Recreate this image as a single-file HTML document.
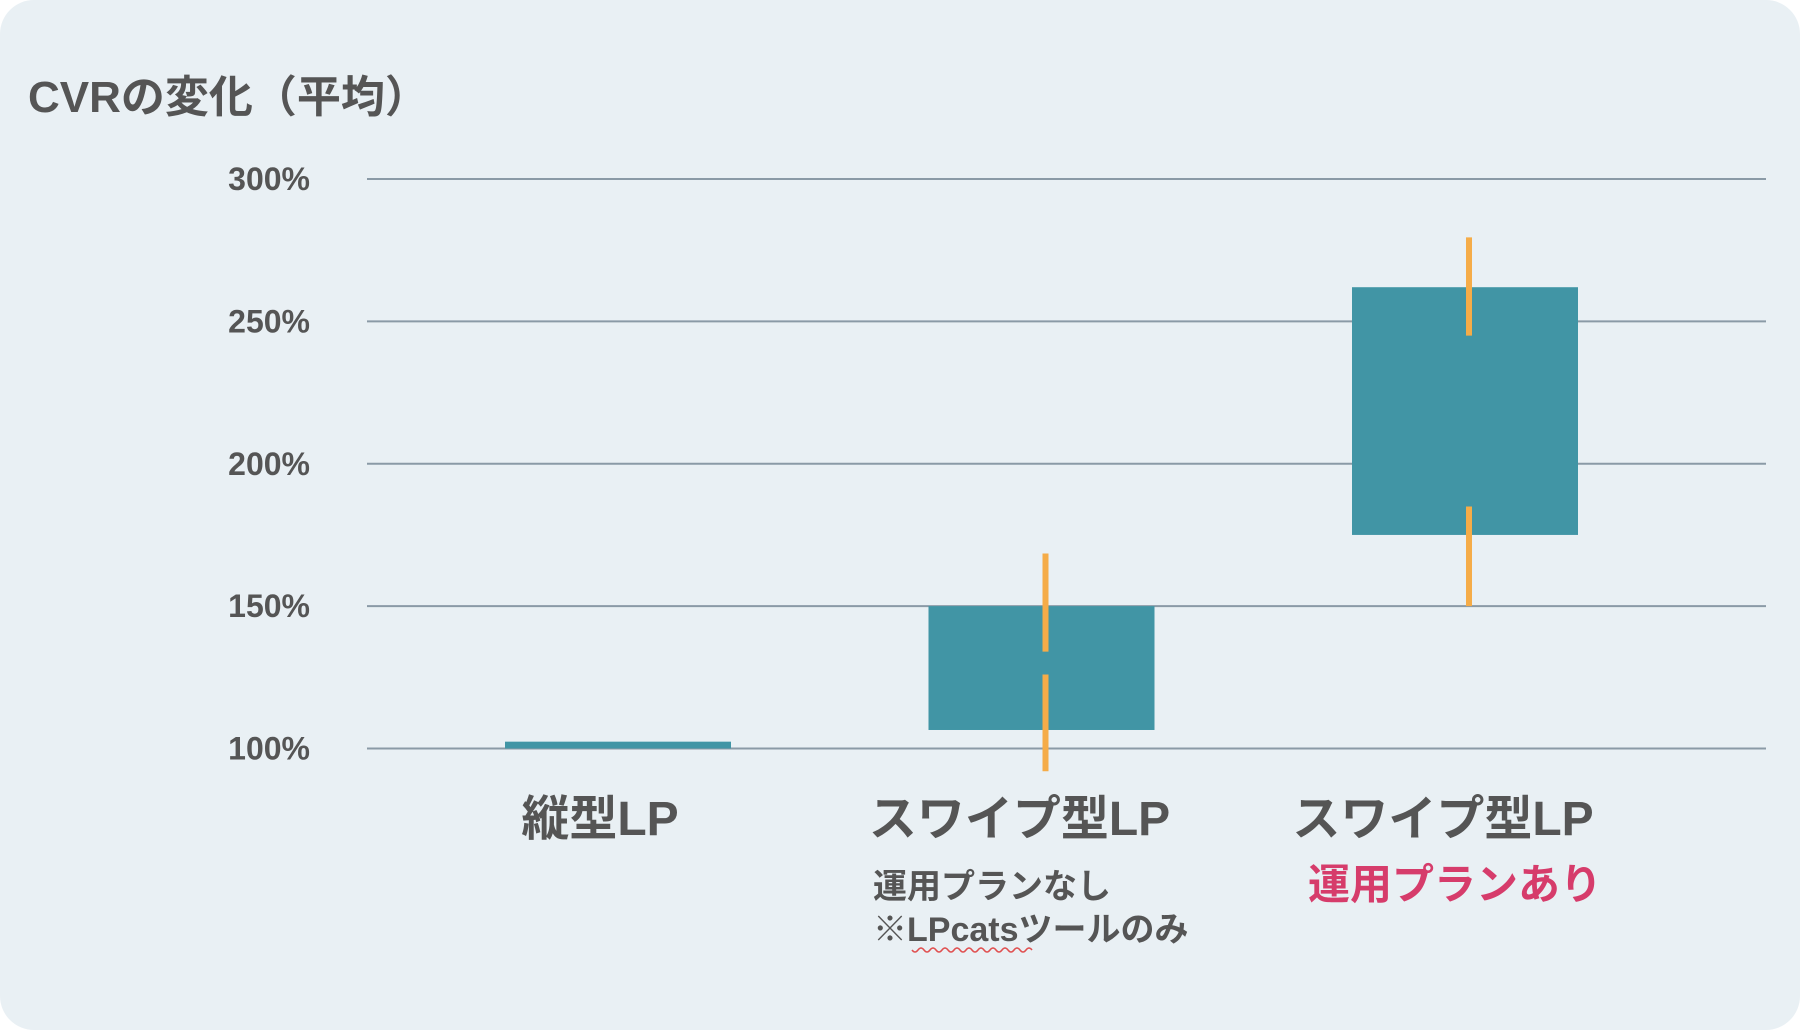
<!DOCTYPE html>
<html><head><meta charset="utf-8"><style>
html,body{margin:0;padding:0;background:#fff;}
#card{position:absolute;left:0;top:0;width:1800px;height:1030px;background:#e9f0f4;border-radius:34px;overflow:hidden;}
svg text{font-family:"Liberation Sans","Noto Sans CJK JP",sans-serif;font-weight:bold;}
</style></head><body>
<div id="card">
<svg id="chart" width="1800" height="1030">
<text x="28" y="112" font-size="44" fill="#555">CVRの変化（平均）</text>
<g id="grid"></g><g id="bars"></g><g id="labels"></g>
<path d="M912 950 q3 4 6 0 t6 0 t6 0 t6 0 t6 0 t6 0 t6 0 t6 0 t6 0 t6 0 t6 0 t6 0 t6 0 t6 0 t6 0 t6 0 t6 0 t6 0 t6 0 t6 0" fill="none" stroke="#e05050" stroke-width="1.5"/>
</svg>
</div>
<script>
const ticks=[100,150,200,250,300];
const tickLabels=["100%","150%","200%","250%","300%"];
const categories=["縦型LP","スワイプ型LP","スワイプ型LP"];
const boxLow=[100,106.5,175];
const boxHigh=[102.4,150,262];
const whiskerHigh=[null,168.5,279.5];
const whiskerHighInner=[null,134,245];
const whiskerLowInner=[null,126,185];
const whiskerLow=[null,92,150];
const ns="http://www.w3.org/2000/svg";
const y=v=>748.5-(v-100)*(569.5/200);
const x=i=>618+i*423.5;
function mk(t,a,p){const e=document.createElementNS(ns,t);for(const k in a)e.setAttribute(k,a[k]);p.appendChild(e);return e;}
const G=document.getElementById('grid'),B=document.getElementById('bars'),L=document.getElementById('labels');
ticks.forEach((t,i)=>{
 const l=mk('line',{x1:367,x2:1766,y1:y(t),y2:y(t),stroke:'#8a9aa6','stroke-width':2},G);
 
 
 const tx=mk('text',{x:310,y:y(t)+11,'text-anchor':'end','font-size':32,fill:'#555'},G);
 tx.textContent=tickLabels[i];
 
 
});
categories.forEach((c,i)=>{
 const r=mk('rect',{x:x(i)-113,width:226,y:y(boxHigh[i]),height:y(boxLow[i])-y(boxHigh[i]),fill:'#4195a5'},B);
 
 
 if(whiskerHigh[i]!==null){
  const w1=mk('line',{x1:x(i)+4,x2:x(i)+4,y1:y(whiskerHigh[i]),y2:y(whiskerHighInner[i]),stroke:'#f5ac48','stroke-width':6},B);
  
  
  const w2=mk('line',{x1:x(i)+4,x2:x(i)+4,y1:y(whiskerLowInner[i]),y2:y(whiskerLow[i]),stroke:'#f5ac48','stroke-width':6},B);
  
  
 }
 const t=mk('text',{x:x(i)-18+(i==0?0:-4),y:835,'text-anchor':'middle','font-size':48,fill:'#555'},L);
 t.textContent=c;
 
 
});
const s1=mk('text',{x:873,y:898,'font-size':34,fill:'#555'},L);
s1.textContent='運用プランなし';


const s2=mk('text',{x:873,y:941,'font-size':34,fill:'#555'},L);
s2.textContent='※LPcatsツールのみ';


const s3=mk('text',{x:1308,y:899,'font-size':42,fill:'#d63c6b'},L);
s3.textContent='運用プランあり';


</script>
</body></html>
